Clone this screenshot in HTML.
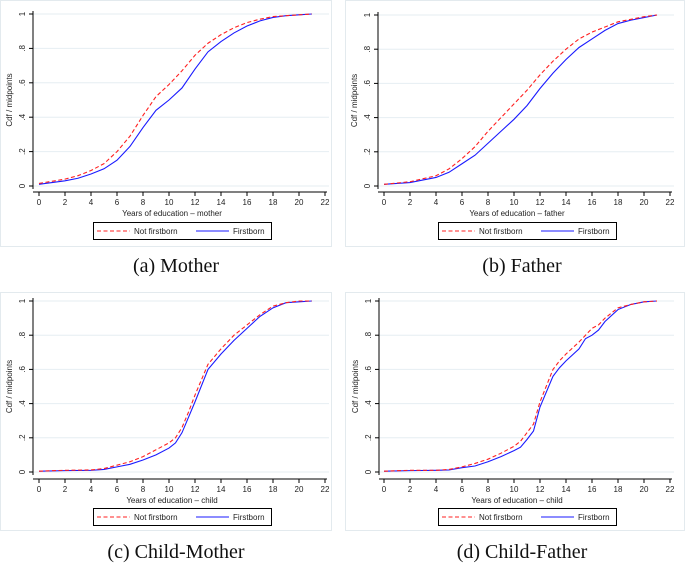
<!DOCTYPE html>
<html><head><meta charset="utf-8"><style>
body{margin:0;background:#fff;width:685px;height:563px;overflow:hidden}
svg{display:block}
text{font-family:"Liberation Sans",sans-serif;fill:#222}
.cap{font-family:"Liberation Serif",serif;font-size:20px;fill:#111}
</style></head><body>
<svg id="chart" width="685" height="563"></svg>
<script>
const xTicks=[0,2,4,6,8,10,12,14,16,18,20,22];
const yTicks=[0,0.2,0.4,0.6,0.8,1];
const yTickLabels=["0",".2",".4",".6",".8","1"];
const motherX=[0,2,3,4,5,6,7,8,9,10,11,12,13,14,15,16,17,18,19,20,21];
const motherNot=[.015,.04,.06,.09,.13,.2,.29,.41,.52,.59,.67,.76,.83,.88,.92,.95,.97,.985,.99,.995,1];
const motherFirst=[.01,.03,.045,.07,.1,.15,.23,.34,.44,.5,.57,.68,.78,.84,.89,.93,.96,.98,.99,.995,1];
const fatherX=[0,2,4,5,6,7,8,9,10,11,12,13,14,15,16,17,18,19,20,21];
const fatherNot=[.01,.025,.06,.1,.16,.23,.32,.4,.48,.56,.65,.73,.8,.86,.9,.93,.96,.975,.99,1];
const fatherFirst=[.01,.02,.05,.08,.13,.18,.25,.32,.39,.47,.57,.66,.74,.81,.86,.91,.95,.97,.985,1];
const cmX=[0,2,4,5,6,7,8,9,10,10.5,11,11.5,12,13,14,15,16,17,18,19,20,21];
const cmNot=[.005,.01,.012,.02,.04,.06,.09,.13,.17,.2,.26,.35,.45,.63,.72,.8,.86,.92,.97,.99,1,1];
const cmFirst=[.005,.008,.01,.015,.03,.045,.07,.1,.14,.17,.23,.32,.41,.6,.69,.77,.84,.91,.96,.99,.995,1];
const cfX=[0,2,4,5,6,7,8,9,10,10.5,11,11.5,12,13,13.5,14,15,15.5,16,16.5,17,18,19,20,21];
const cfNot=[.005,.01,.01,.015,.03,.05,.075,.11,.15,.18,.23,.28,.41,.6,.65,.69,.76,.8,.84,.86,.9,.96,.98,.995,1];
const cfFirst=[.005,.008,.01,.012,.025,.035,.06,.09,.125,.145,.19,.24,.38,.56,.61,.65,.72,.78,.8,.83,.88,.95,.98,.995,1];

const panels=[
 {name:"mother",fx:0,fy:0,fw:331,fh:246,x0:39,y0:186,y1:14,ax:33,xa:192,title:"Years of education \u2013 mother",cap:"(a) Mother",capx:176,capy:272,lx:93,ly:222,X:motherX,A:motherNot,B:motherFirst},
 {name:"father",fx:345,fy:0,fw:339,fh:246,x0:384,y0:186,y1:15,ax:378,xa:192,title:"Years of education \u2013 father",cap:"(b) Father",capx:522,capy:272,lx:438,ly:222,X:fatherX,A:fatherNot,B:fatherFirst},
 {name:"child-mother",fx:0,fy:292,fw:331,fh:238,x0:39,y0:472,y1:301,ax:33,xa:479,title:"Years of education \u2013 child",cap:"(c) Child-Mother",capx:176,capy:558,lx:93,ly:508,X:cmX,A:cmNot,B:cmFirst},
 {name:"child-father",fx:345,fy:292,fw:339,fh:238,x0:384,y0:472,y1:301,ax:379,xa:479,title:"Years of education \u2013 child",cap:"(d) Child-Father",capx:522,capy:558,lx:438,ly:508,X:cfX,A:cfNot,B:cfFirst}
];
const NS="http://www.w3.org/2000/svg";
const svg=document.getElementById('chart');
function mk(tag,attrs,parent,txt){const e=document.createElementNS(NS,tag);for(const k in attrs)e.setAttribute(k,attrs[k]);if(txt!==undefined)e.textContent=txt;(parent||svg).appendChild(e);return e;}
panels.forEach(p=>{
 const g=mk('g',{});
 
 
 const sx=v=>p.x0+v*13;
 const sy=v=>p.y0+(p.y1-p.y0)*v;
 mk('rect',{x:p.fx+0.5,y:p.fy+0.5,width:p.fw,height:p.fh,fill:'none',stroke:'#e3eaee'},g);
 yTicks.forEach((t,i)=>{
  const y=sy(t);
  const gl=mk('line',{x1:p.ax,x2:p.x0+22*13+4,y1:y,y2:y,stroke:'#e6eef2','stroke-width':1},g);
  
  
  mk('line',{x1:p.ax-4,x2:p.ax,y1:y,y2:y,stroke:'#000'},g);
  const tl=mk('text',{x:p.ax-8,y:y,'font-size':8,'text-anchor':'middle',transform:`rotate(-90 ${p.ax-8} ${y})`},g,yTickLabels[i]);
  
  
 });
 mk('line',{x1:p.ax,x2:p.ax,y1:p.y1-3,y2:p.y0+3,stroke:'#000'},g);
 mk('line',{x1:p.ax,x2:p.x0+22*13+2,y1:p.xa,y2:p.xa,stroke:'#000'},g);
 xTicks.forEach(t=>{
  const x=sx(t);
  mk('line',{x1:x,x2:x,y1:p.xa,y2:p.xa+4,stroke:'#000'},g);
  const tl=mk('text',{x:x,y:p.xa+13,'font-size':8,'text-anchor':'middle'},g,String(t));
  
  
 });
 const yt=mk('text',{x:0,y:0,'font-size':8,'text-anchor':'middle',transform:`translate(${p.ax-21},${(p.y0+p.y1)/2}) rotate(-90)`},g,'Cdf / midpoints');
 
 
 const xt=mk('text',{x:(p.x0+p.x0+286)/2-10,y:p.xa+24,'font-size':8,'text-anchor':'middle'},g,p.title);
 
 
 const la=p.X.map((x,i)=>sx(x)+','+sy(p.A[i])).join(' ');
 const lb=p.X.map((x,i)=>sx(x)+','+sy(p.B[i])).join(' ');
 const l2=mk('polyline',{points:lb,fill:'none',stroke:'#1a1aff','stroke-width':1.1},g);
 
 
 const l1=mk('polyline',{points:la,fill:'none',stroke:'#ff2020','stroke-width':1.1,'stroke-dasharray':'4,2.5'},g);
 
 
 const lg=mk('g',{},g);
 
 
 mk('rect',{x:p.lx+0.5,y:p.ly+0.5,width:178,height:17,fill:'#fff',stroke:'#000'},lg);
 mk('line',{x1:p.lx+4,x2:p.lx+37,y1:p.ly+9,y2:p.ly+9,stroke:'#ff2020','stroke-dasharray':'4,2.5'},lg);
 mk('text',{x:p.lx+41,y:p.ly+12,'font-size':8},lg,'Not firstborn');
 mk('line',{x1:p.lx+103,x2:p.lx+136,y1:p.ly+9,y2:p.ly+9,stroke:'#1a1aff'},lg);
 mk('text',{x:p.lx+140,y:p.ly+12,'font-size':8},lg,'Firstborn');
 const c=mk('text',{x:p.capx,y:p.capy,'text-anchor':'middle',class:'cap'},g,p.cap);
 
 
});
</script>
</body></html>
